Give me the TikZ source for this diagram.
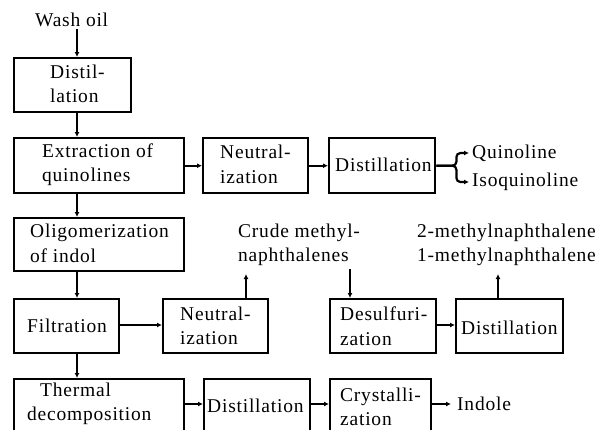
\documentclass[tikz,border=0pt]{standalone}
\usepackage{fontspec}
\setmainfont{Liberation Serif}[LetterSpace=4]
\usetikzlibrary{arrows.meta}
\tikzset{
  box/.style={draw, line width=2.4bp, inner sep=0pt, anchor=north west},
  txt/.style={inner sep=0pt, align=left, anchor=west, font=\fontsize{19.5bp}{24.5bp}\selectfont},
  arr/.style={line width=2.2bp, -{Latex[length=5bp,width=5bp]}},
}
\begin{document}
\begin{tikzpicture}[x=1bp,y=-1bp]
\useasboundingbox (0,0) rectangle (601,429);
\clip (0,0) rectangle (601,429);
% boxes
\node[box, minimum width=117bp, minimum height=54bp] (distA) at (13,57) {};
\node[box, minimum width=170bp, minimum height=55bp] (extr) at (13,137) {};
\node[box, minimum width=105bp, minimum height=55bp] (neut1) at (202,137) {};
\node[box, minimum width=106bp, minimum height=55bp] (dist1) at (328,137) {};
\node[box, minimum width=170bp, minimum height=53bp] (olig) at (13,217) {};
\node[box, minimum width=105bp, minimum height=54bp] (filt) at (13,298) {};
\node[box, minimum width=105bp, minimum height=54bp] (neut2) at (162,298) {};
\node[box, minimum width=106bp, minimum height=54bp] (desulf) at (329,298) {};
\node[box, minimum width=107bp, minimum height=54bp] (dist2) at (455,298) {};
\node[box, minimum width=170bp, minimum height=56bp] (therm) at (13,378) {};
\node[box, minimum width=106bp, minimum height=56bp] (dist3) at (203,378) {};
\node[box, minimum width=101bp, minimum height=56bp] (cryst) at (329,378) {};
% texts in boxes
\node[txt] (distAT) at (50,84) {Distil-\\lation};
\node[txt] (extrT) at (42,164.5) {Extraction of\\quinolines};
\node[txt] (neut1T) at (220,164.5) {Neutral-\\ization};
\node[txt] (dist1T) at (335,164.5) {Distillation};
\node[txt] (oligT) at (30,243.5) {Oligomerization\\of indol};
\node[txt] (filtT) at (27,326) {Filtration};
\node[txt] (neut2T) at (180,326) {Neutral-\\ization};
\node[txt] (desulfT) at (340,326) {Desulfuri-\\zation};
\node[txt] (dist2T) at (461,328) {Distillation};
\node[txt] (thermT) at (27,404) {\hspace{13bp}Thermal\\decomposition};
\node[txt] (dist3T) at (207,406) {Distillation};
\node[txt] (crystT) at (340,407) {Crystalli-\\zation};
% free texts
\node[txt] (wash) at (35,20) {Wash oil};
\node[txt] (crude) at (238,245) {Crude methyl-\\naphthalenes};
\node[txt] (mn) at (417,245) {2-methylnaphthalene\\1-methylnaphthalene};
\node[txt, inner xsep=3bp] (quin) at (469,153) {Quinoline};
\node[txt, inner xsep=3bp] (isoq) at (469,182) {Isoquinoline};
\node[txt, inner xsep=6bp] (indole) at (451,404) {Indole};
% coordinates
\coordinate (cx) at (77,0);
\coordinate (cn2) at (246,0);
\coordinate (cds) at (350,0);
\coordinate (cd2) at (498,0);
\coordinate (cf) at (0,325);
\coordinate (cb) at (0,404);
\coordinate (cm) at (0,274);
% connectors
\draw[arr] (wash.south -| cx) ++(0,2) -- (distA.north -| cx);
\draw[arr] (distA.south -| cx) -- (extr.north -| cx);
\draw[arr] (extr.south -| cx) -- (olig.north -| cx);
\draw[arr] (olig.south -| cx) -- (filt.north -| cx);
\draw[arr] (filt.south -| cx) -- (therm.north -| cx);
\draw[arr] (extr) -- (neut1);
\draw[arr] (neut1) -- (dist1);
\draw[arr, rounded corners=4bp] (dist1.east) -- ++(20,0) |- (quin.west);
\draw[arr, rounded corners=4bp] (dist1.east) -- ++(20,0) |- (isoq.west);
\draw[arr] (filt.east |- cf) -- (neut2.west |- cf);
\draw[arr] (neut2.north -| cn2) -- (cm -| cn2);
\draw[arr] (crude.south -| cds) ++(0,3) -- (desulf.north -| cds);
\draw[arr] (desulf.east |- cf) -- (dist2.west |- cf);
\draw[arr] (dist2.north -| cd2) -- (cm -| cd2);
\draw[arr] (therm.east |- cb) -- (dist3.west |- cb);
\draw[arr] (dist3.east |- cb) -- (cryst.west |- cb);
\draw[arr] (cryst.east |- cb) -- (indole.west);
\end{tikzpicture}
\end{document}
